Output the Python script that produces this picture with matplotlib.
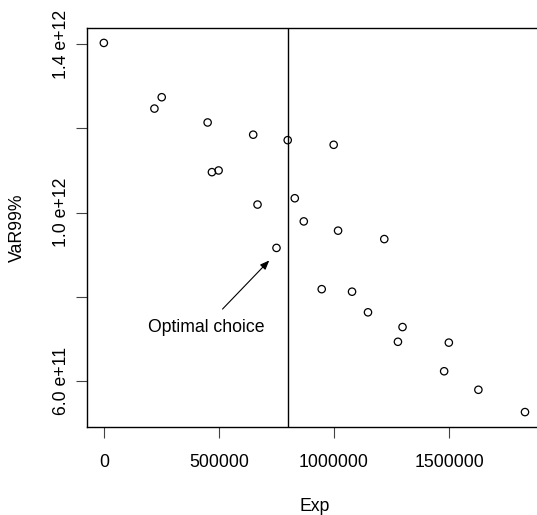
import matplotlib
matplotlib.use('Agg')
import matplotlib.pyplot as plt

plt.rcParams['font.family'] = ['Liberation Sans', 'DejaVu Sans']

# Exp vs VaR99%
exp_vals = [0, 219800, 251500, 451000, 469600, 498700, 649000, 667800, 750200,
            799000, 829700, 868800, 998700, 1017800, 1218600, 946700, 1078500,
            1147800, 1297900, 1277900, 1499100, 1478700, 1627500, 1830000]
var_vals = [1.403e12, 1.247e12, 1.274e12, 1.214e12, 1.096e12, 1.100e12, 1.185e12,
            1.019e12, 0.916e12, 1.172e12, 1.034e12, 0.979e12, 1.161e12, 0.957e12,
            0.937e12, 0.818e12, 0.812e12, 0.763e12, 0.728e12, 0.693e12, 0.691e12,
            0.623e12, 0.579e12, 0.526e12]
optimal_exp = 800000
arrow_from = (507400, 0.766e12)
arrow_to = (727200, 0.891e12)
label_pos = (446700, 0.726e12)

xticks = [0, 500000, 1000000, 1500000]
xticklabels = ['0', '500000', '1000000', '1500000']
yticks = [6e11, 8e11, 1e12, 1.2e12, 1.4e12]
yticklabels = ['6.0 e+11', '', '1.0 e+12', '', '1.4 e+12']

fs = 12.7
fig = plt.figure(figsize=(5.37, 5.15), dpi=100)
ax = fig.add_axes([0.162, 0.1709, 0.847, 0.7747])

ax.scatter(exp_vals, var_vals, s=28, facecolors='none', edgecolors='black', linewidths=0.9)
ax.axvline(optimal_exp, color='black', lw=1)
ax.annotate('', xy=arrow_to, xytext=arrow_from,
            arrowprops=dict(arrowstyle='-|>,head_length=0.5,head_width=0.2',
                            color='black', lw=0.8, mutation_scale=11))
ax.text(label_pos[0], label_pos[1], 'Optimal choice', ha='center', va='center', fontsize=fs)

ax.set_xlim(-73200, 1903200)
ax.set_ylim(0.4906e12, 1.4384e12)

ax.set_xticks(xticks)
ax.set_xticklabels(xticklabels, fontsize=fs)
ax.set_yticks(yticks)
ax.set_yticklabels(yticklabels, fontsize=fs, rotation=90, va='center')
ax.tick_params(axis='both', direction='out', length=8, width=0.8, color='#444444')
ax.tick_params(axis='x', pad=11.5)
ax.tick_params(axis='y', pad=4.5)

for s in ax.spines.values():
    s.set_linewidth(1)

ax.set_xlabel('Exp', fontsize=fs, va='center')
ax.set_ylabel('VaR99%', fontsize=fs, va='center')
ax.xaxis.set_label_coords(0.5, -0.2)
ax.yaxis.set_label_coords(-0.152, 0.5)

fig.savefig('out.png', dpi=100)
